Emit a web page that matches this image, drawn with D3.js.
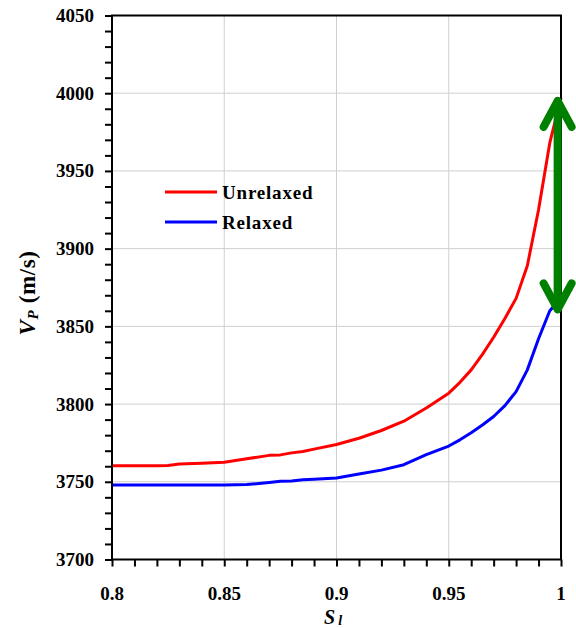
<!DOCTYPE html>
<html>
<head>
<meta charset="utf-8">
<script src="https://cdn.jsdelivr.net/npm/d3@7"></script>
<style>
html,body{margin:0;padding:0;background:#fff;}
svg{display:block;}
</style>
</head>
<body>
<svg id="chart" width="576" height="628"></svg>
<script>
// ---- data ----
const sl = [0.8, 0.81, 0.82, 0.825, 0.83, 0.84, 0.85, 0.86, 0.87, 0.875, 0.88, 0.885, 0.89, 0.9, 0.91, 0.92, 0.93, 0.94, 0.95, 0.955, 0.96, 0.965, 0.97, 0.975, 0.98, 0.985, 0.99, 0.995, 1.0];
const unrelaxed = [3760.3, 3760.3, 3760.3, 3760.5, 3761.5, 3762, 3762.6, 3764.8, 3767, 3767.3, 3768.6, 3769.5, 3771, 3774, 3778, 3783, 3789, 3797.5, 3807, 3814, 3822, 3832, 3843, 3855, 3868, 3889, 3925, 3968, 3997];
const relaxed   = [3748, 3748, 3748, 3748, 3748, 3748, 3748, 3748.2, 3749.5, 3750.3, 3750.5, 3751.3, 3751.7, 3752.5, 3755, 3757.5, 3761, 3767.5, 3773, 3777, 3781.5, 3786.5, 3792, 3799, 3808, 3822, 3842, 3860, 3868];
const seriesNames = ["Unrelaxed", "Relaxed"];
const seriesColors = ["#ff0000", "#0000ff"];
const xTicks = [0.8, 0.85, 0.9, 0.95, 1];
const xTickLabels = ["0.8", "0.85", "0.9", "0.95", "1"];
const yTicks = [3700, 3750, 3800, 3850, 3900, 3950, 4000, 4050];
const arrowX = 0.9985;
const arrowTop = 3997;
const arrowBottom = 3859;

// ---- layout ----
const FONT = "'Liberation Serif', 'Times New Roman', Times, 'DejaVu Serif', serif";
const svg = d3.select("#chart").attr("font-family", FONT).attr("font-weight", "bold");
const L = 112, R = 561, T = 15.5, B = 559.5;
const x = d3.scaleLinear().domain([0.8, 1]).range([L, R]);
const y = d3.scaleLinear().domain([3700, 4050]).range([B, T]);

// grid
const grid = svg.append("g");
grid.selectAll("line.gx").data(xTicks.slice(1, -1)).join("line")
  .attr("x1", d => x(d)).attr("x2", d => x(d)).attr("y1", T).attr("y2", B)
  .attr("stroke", "#cfcfcf").attr("stroke-width", 1);
grid.selectAll("line.gy").data(yTicks.slice(1, -1)).join("line")
  .attr("y1", d => y(d)).attr("y2", d => y(d)).attr("x1", L).attr("x2", R)
  .attr("stroke", "#cfcfcf").attr("stroke-width", 1);

// lines
const line = d3.line().x((d, i) => x(sl[i])).y(d => y(d));
[unrelaxed, relaxed].forEach((s, k) => {
  svg.append("path").datum(s).attr("d", line)
    .attr("fill", "none").attr("stroke", seriesColors[k])
    .attr("stroke-width", 3).attr("stroke-linejoin", "round");
});

// axes
const minorX = d3.range(0.8, 1.0001, 0.01);
const minorY = d3.range(3700, 4050.1, 10);
const xAxis = d3.axisBottom(x).tickValues(minorX).tickSize(7).tickFormat("");
const yAxis = d3.axisLeft(y).tickValues(minorY).tickSize(7).tickFormat("");
const gx = svg.append("g").attr("transform", `translate(0,${B})`).call(xAxis);
const gy = svg.append("g").attr("transform", `translate(${L},0)`).call(yAxis);
[gx, gy].forEach(g => {
  g.select(".domain").remove();
  g.selectAll(".tick line").attr("stroke", "#000").attr("stroke-width", 2);
});

// frame
svg.append("rect").attr("x", L).attr("y", T).attr("width", R - L).attr("height", B - T)
  .attr("fill", "none").attr("stroke", "#000").attr("stroke-width", 2);

// tick labels
svg.append("g").selectAll("text").data(xTicks).join("text")
  .attr("font-family", FONT).attr("font-weight", "bold")
  .attr("x", d => x(d)).attr("y", 600).attr("text-anchor", "middle")
  .attr("font-size", 19).text((d, i) => xTickLabels[i]);
svg.append("g").selectAll("text").data(yTicks).join("text")
  .attr("font-family", FONT).attr("font-weight", "bold")
  .attr("x", 94).attr("y", d => y(d) + 6.5).attr("text-anchor", "end")
  .attr("font-size", 19).text(d => d);

// axis titles
const xt = svg.append("text").attr("font-family", FONT).attr("font-weight", "bold")
  .attr("x", 324).attr("y", 624).attr("font-size", 20);
xt.append("tspan").attr("font-style", "italic").text("S");
xt.append("tspan").attr("font-style", "italic").attr("font-size", 14).attr("dx", 3).attr("dy", 1).text("l");

const yt = svg.append("text").attr("font-family", FONT).attr("font-weight", "bold")
  .attr("transform", "translate(35,293) rotate(-90)")
  .attr("text-anchor", "middle").attr("font-size", 23).attr("letter-spacing", 0.6);
yt.append("tspan").attr("font-style", "italic").text("V");
yt.append("tspan").attr("font-style", "italic").attr("font-size", 15).attr("dy", 3).text("P");
yt.append("tspan").attr("dy", -3).text(" (m/s)");

// legend
seriesNames.forEach((n, k) => {
  const ly = 192 + k * 30;
  svg.append("line").attr("x1", 165).attr("x2", 217).attr("y1", ly).attr("y2", ly)
    .attr("stroke", seriesColors[k]).attr("stroke-width", 3);
  svg.append("text").attr("font-family", FONT).attr("font-weight", "bold")
    .attr("x", 222).attr("y", ly + 6.5).attr("font-size", 19)
    .attr("letter-spacing", 0.8).text(n);
});

// green double arrow
const ax = x(arrowX), y1 = y(arrowTop), y2 = y(arrowBottom);
const g = svg.append("g").attr("stroke", "#008000").attr("stroke-width", 8)
  .attr("stroke-linecap", "round").attr("stroke-linejoin", "round").attr("fill", "none");
g.append("line").attr("x1", ax).attr("x2", ax).attr("y1", y1 + 4).attr("y2", y2 - 4);
g.append("polyline").attr("points", `${ax-14},${y1+29} ${ax},${y1+3} ${ax+14},${y1+29}`);
g.append("polyline").attr("points", `${ax-14},${y2-29} ${ax},${y2-3} ${ax+14},${y2-29}`);
</script>
</body>
</html>
